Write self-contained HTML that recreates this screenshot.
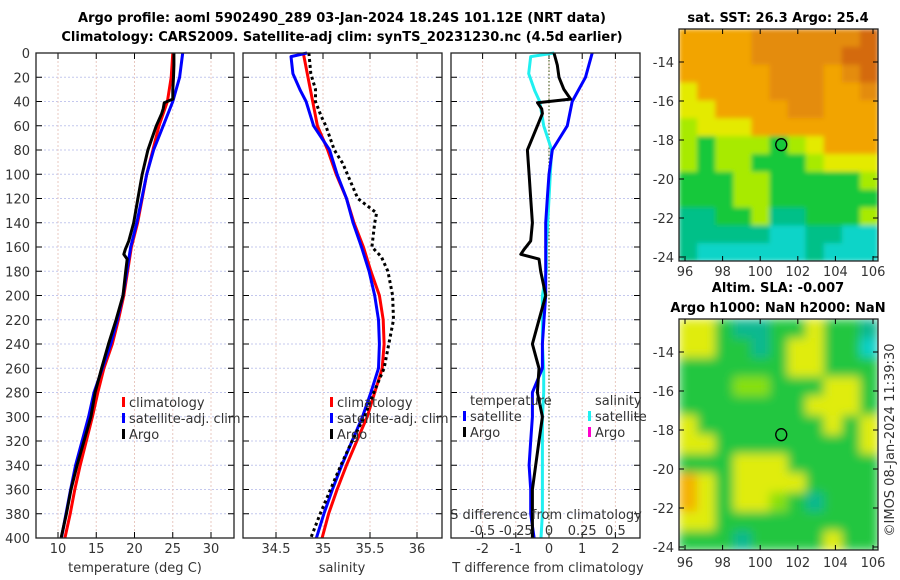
<!DOCTYPE html>
<html><head><meta charset="utf-8">
<style>
html,body{margin:0;padding:0;background:#fff;}
svg{display:block;font-family:"DejaVu Sans","Liberation Sans",sans-serif;}
.t{font-size:13px;fill:#333;}
.b{font-size:13px;font-weight:bold;fill:#000;}
</style></head>
<body>
<svg id="fig" width="900" height="580" viewBox="0 0 900 580" xmlns="http://www.w3.org/2000/svg">
<defs>
<filter id="blur2" x="0" y="0" width="1" height="1"><feGaussianBlur stdDeviation="5"/></filter>
<filter id="blur1" x="0" y="0" width="1" height="1"><feGaussianBlur stdDeviation="2.5"/></filter>
<clipPath id="cm1"><rect x="679" y="29" width="199" height="232"/></clipPath>
<clipPath id="cm2"><rect x="679" y="319" width="199" height="231"/></clipPath>
</defs>
<text class="b" x="342" y="22" text-anchor="middle">Argo profile: aoml 5902490_289 03-Jan-2024 18.24S 101.12E (NRT data)</text>
<text class="b" x="342" y="41" text-anchor="middle">Climatology: CARS2009. Satellite-adj clim: synTS_20231230.nc (4.5d earlier)</text>
<text class="b" x="778" y="22" text-anchor="middle">sat. SST: 26.3 Argo: 25.4</text>
<text class="b" x="778" y="292" text-anchor="middle">Altim. SLA: -0.007</text>
<text class="b" x="778" y="312" text-anchor="middle">Argo h1000: NaN h2000: NaN</text>
<text class="t" transform="translate(894,440) rotate(-90)" text-anchor="middle">©IMOS 08-Jan-2024 11:39:30</text>
<g id="g"></g>
</svg>
<script>
// ---- data ----
const climDepth = [0,20,40,60,80,100,120,140,160,180,200,220,240,260,280,300,320,340,360,380,400];
const climT = [25.0,24.8,24.3,23.2,22.4,21.6,21.0,20.4,19.6,19.1,18.6,17.9,17.1,16.0,15.2,14.5,13.7,12.9,12.2,11.6,10.9];
const satT = [26.3,25.9,25.0,23.75,22.5,21.6,20.95,20.3,19.5,19.0,18.5,17.75,16.9,15.8,14.7,14.0,13.15,12.3,11.65,11.05,10.45];
const climS = [34.79,34.84,34.89,34.94,35.05,35.14,35.25,35.33,35.43,35.51,35.60,35.64,35.65,35.63,35.55,35.47,35.36,35.25,35.15,35.06,34.99];
const satSDepth = [0,3,17,31,40,60,80,100,120,140,160,180,200,220,240,260,280,300,320,340,360,380,400];
const satS = [34.83,34.66,34.68,34.76,34.82,34.90,35.07,35.15,35.25,35.32,35.41,35.49,35.55,35.59,35.60,35.59,35.51,35.42,35.31,35.20,35.10,35.01,34.93];
const argoTDepth = [0,10,20,30,38,41,46,50,60,70,80,100,120,140,155,162,166,170,180,200,220,240,260,280,300,320,340,360,380,400];
const argoT = [25.15,25.15,25.1,25.0,25.0,23.9,23.75,23.55,22.85,22.3,21.75,21.0,20.45,19.9,19.25,18.8,18.6,19.05,18.85,18.5,17.6,16.6,15.7,14.85,14.3,13.4,12.5,11.7,11.1,10.4];
const argoSDepth = [0,17,30,40,52,60,80,91,100,120,132,140,160,168,180,200,220,240,260,280,300,320,340,360,380,400];
const argoS = [34.85,34.87,34.92,34.92,34.98,35.03,35.12,35.21,35.26,35.37,35.57,35.55,35.52,35.62,35.69,35.74,35.75,35.70,35.65,35.54,35.44,35.31,35.19,35.08,34.97,34.87];
const depthTicks = [0,20,40,60,80,100,120,140,160,180,200,220,240,260,280,300,320,340,360,380,400];
const tTicks = [10,15,20,25,30];
const sTicks = [34.5,35,35.5,36];
const tdTicks = [-2,-1,0,1,2];
const sdTicks = [-0.5,-0.25,0,0.25,0.5];
const sdTickLabels = ["-0.5","-0.25","0","0.25","0.5"];
const lonTicks = [96,98,100,102,104,106];
const latTicks = [-14,-16,-18,-20,-22,-24];
const argoLon = 101.12, argoLat = -18.24;
const sstGrid = ["OOOODDDDDDK","OOOODDDDDKK","OOOOODDDODK","YOOOODDDOOD","YYOOOODDOOO","LYYYOOOOOOO","LGLLLGLYOOO","LGLLGGGLYYY","GGGLLGGGGGL","GGGLLGGGGGG","TTGGLTTGGGL","TTTTTCCTTCC","TCCCCCCTCCC"];
const slaGrid = ["YYGTTGGYGGT","YYGGTGYYGGC","GGGGGGYYGGG","GGGLLGGGYYG","GGGGGGGYYYG","YGGGGGGGYGY","YYGGGGGGGGY","GGGYYYGGGGG","OYGYYYYGGGG","OYGYYLGTGGG","YYGGGGGGGGG","GGGTGGGGYGG"];

// ---- scales ----
const yD = d => 53 + d*1.2125;
const xT = t => 58 + (t-10)*7.65;
const xS = s => 323 + (s-35)*94;
const xTd = v => 549 + v*33.2;
const xSd = v => 549 + v*132.8;
const NS = "http://www.w3.org/2000/svg";
const G = document.getElementById('g');
function mk(tag, at, parent){ const e=document.createElementNS(NS,tag); for(const k in at) e.setAttribute(k,at[k]); (parent||G).appendChild(e); return e; }
function interp(xs, ys, x){ for(let i=0;i<xs.length-1;i++){ if(x>=xs[i]&&x<=xs[i+1]){ const f=(x-xs[i])/(xs[i+1]-xs[i]); return ys[i]+f*(ys[i+1]-ys[i]); } } return ys[ys.length-1]; }
function line(depths, vals, xf, color, name, dash){
  const pts = depths.map((d,i)=> xf(vals[i]).toFixed(1)+','+yD(d).toFixed(1)).join(' ');
  const p = mk('polyline',{points:pts,fill:'none',stroke:color,'stroke-width':3,'stroke-linejoin':'round'});
  if(dash){ p.setAttribute('stroke-dasharray',dash); p.setAttribute('stroke-linecap','butt'); }
  
  
  return p;
}
function panel(x0, x1, xt, xf, labels, name, showDepth){
  const grp = mk('g',{});
  
  
  depthTicks.forEach(d=>{ mk('line',{x1:x0,x2:x1,y1:yD(d),y2:yD(d),stroke:'#c4c8ee','stroke-width':1,'stroke-dasharray':'2,2'},grp); });
  xt.forEach(v=>{ mk('line',{x1:xf(v),x2:xf(v),y1:53,y2:538,stroke:'#e8c8c0','stroke-width':1,'stroke-dasharray':'2,2'},grp); });
  depthTicks.forEach(d=>{ mk('line',{x1:x0,x2:x0+6,y1:yD(d),y2:yD(d),stroke:'#000'},grp); mk('line',{x1:x1-6,x2:x1,y1:yD(d),y2:yD(d),stroke:'#000'},grp); });
  xt.forEach(v=>{ mk('line',{x1:xf(v),x2:xf(v),y1:53,y2:59,stroke:'#000'},grp); mk('line',{x1:xf(v),x2:xf(v),y1:532,y2:538,stroke:'#000'},grp); });
  xt.forEach((v,i)=>{ const t=mk('text',{x:xf(v),y:553,'text-anchor':'middle',class:'t'},grp); t.textContent=labels[i];   });
  if(showDepth){ depthTicks.forEach(d=>{ const t=mk('text',{x:30,y:yD(d)+5,'text-anchor':'end',class:'t'},grp); t.textContent=d;   }); }
  return grp;
}
function frame(x0,x1,name){ const r=mk('rect',{x:x0,y:53,width:x1-x0,height:485,fill:'none',stroke:'#222','stroke-width':1.3});   }
function txt(x,y,s,name,anchor){ const t=mk('text',{x:x,y:y,class:'t','text-anchor':anchor||'start'}); t.textContent=s;   return t; }
function legBar(x,y,color,name){ const r=mk('rect',{x:x,y:y-10,width:3,height:10,fill:color});   }

// ---- panel 1: temperature ----
panel(36,234,tTicks,xT,tTicks.map(String),'temperature-panel',true);
line(climDepth,climT,xT,'#ff0000','temp-climatology-line');
line(climDepth,satT,xT,'#0000ff','temp-satellite-line');
line(argoTDepth,argoT,xT,'#000','temp-argo-line');
frame(36,234,'temperature-axes-frame');
txt(135,572,'temperature (deg C)','temperature-axis-title','middle');
legBar(122,407,'#ff0000','legend-climatology-swatch'); txt(129,407,'climatology','legend-climatology');
legBar(122,423,'#0000ff','legend-satellite-swatch'); txt(129,423,'satellite-adj. clim','legend-satellite-adj-clim');
legBar(122,439,'#000','legend-argo-swatch'); txt(129,439,'Argo','legend-argo');

// ---- panel 2: salinity ----
panel(243,442,sTicks,xS,sTicks.map(String),'salinity-panel',false);
line(climDepth,climS,xS,'#ff0000','sal-climatology-line');
line(satSDepth,satS,xS,'#0000ff','sal-satellite-line');
line(argoSDepth,argoS,xS,'#000','sal-argo-line','3,3');
frame(243,442,'salinity-axes-frame');
txt(342,572,'salinity','salinity-axis-title','middle');
legBar(330,407,'#ff0000','legend2-climatology-swatch'); txt(337,407,'climatology','legend2-climatology');
legBar(330,423,'#0000ff','legend2-satellite-swatch'); txt(337,423,'satellite-adj. clim','legend2-satellite-adj-clim');
legBar(330,439,'#000','legend2-argo-swatch'); txt(337,439,'Argo','legend2-argo');

// ---- panel 3: differences ----
panel(451,640,tdTicks,xTd,tdTicks.map(String),'difference-panel',false);
const zl = mk('line',{x1:549,x2:549,y1:53,y2:538,stroke:'#556b2f','stroke-width':1.2,'stroke-dasharray':'1.5,2'});


const satTd = climDepth.map((d,i)=> satT[i]-climT[i]);
const argoTd = argoTDepth.map((d,i)=> argoT[i]-interp(climDepth,climT,d));
const satSd = satSDepth.map((d,i)=> satS[i]-interp(climDepth,climS,d));
line(satSDepth,satSd,xSd,'#20f0f0','sdiff-satellite-line');
line(climDepth,satTd,xTd,'#0000ff','tdiff-satellite-line');
line(argoTDepth,argoTd,xTd,'#000','tdiff-argo-line');
frame(451,640,'difference-axes-frame');
txt(548,572,'T difference from climatology','tdiff-axis-title','middle');
txt(546,519,'S difference from climatology','sdiff-axis-title','middle');
sdTicks.forEach((v,i)=>{ txt(xSd(v),535,sdTickLabels[i],'sdiff-tick-label','middle'); });
txt(470,405,'temperature','legend3-temperature-header');
legBar(463,421,'#0000ff','legend3-tsat-swatch'); txt(470,421,'satellite','legend3-t-satellite');
legBar(463,437,'#000','legend3-targo-swatch'); txt(470,437,'Argo','legend3-t-argo');
txt(595,405,'salinity','legend3-salinity-header');
legBar(588,421,'#20f0f0','legend3-ssat-swatch'); txt(595,421,'satellite','legend3-s-satellite');
legBar(588,437,'#ff00cc','legend3-sargo-swatch'); txt(595,437,'Argo','legend3-s-argo');

// ---- maps ----
const pal = {O:'#f2a400',D:'#e48c0c',K:'#d46a10',Y:'#e4ea00',L:'#a8ea00',G:'#18c83a',T:'#00c088',C:'#10d4c8'};
const pal2 = {O:'#f4b000',Y:'#e0ec10',L:'#88e010',G:'#22c640',T:'#10b890',C:'#10d0c8'};
function map(x0,y0,w,h,grid,p,clip,filt,name,lonY,lat14,lat24,filled){
  const grp = mk('g',{'clip-path':'url(#'+clip+')'});
  
  
  const inner = mk('g',{filter:'url(#'+filt+')'},grp);
  const rows=grid.length, cols=grid[0].length, cw=w/cols, ch=h/rows;
  mk('rect',{x:x0,y:y0,width:w,height:h,fill:p.G},inner);
  grid.forEach((row,r)=>{ [...row].forEach((c,k)=>{ mk('rect',{x:x0+k*cw,y:y0+r*ch,width:cw+0.6,height:ch+0.6,fill:p[c]},inner); }); });
  const lonX = lon => 685 + (lon-96)*18.8;
  const latY = lat => lat14 + (-14-lat)*(lat24-lat14)/10;
  const fr = mk('rect',{x:x0,y:y0,width:w,height:h,fill:'none',stroke:'#222','stroke-width':1.3});
  
  
  latTicks.forEach(v=>{ mk('line',{x1:x0,x2:x0+5,y1:latY(v),y2:latY(v),stroke:'#000'}); mk('line',{x1:x0+w-5,x2:x0+w,y1:latY(v),y2:latY(v),stroke:'#000'}); txt(674,latY(v)+5,String(v),'lat-tick-label','end'); });
  lonTicks.forEach(v=>{ mk('line',{x1:lonX(v),x2:lonX(v),y1:y0+h-5,y2:y0+h,stroke:'#000'}); mk('line',{x1:lonX(v),x2:lonX(v),y1:y0,y2:y0+5,stroke:'#000'}); txt(lonX(v),lonY,String(v),'lon-tick-label','middle'); });
  const c = mk('ellipse',{cx:lonX(argoLon),cy:latY(argoLat),rx:5.5,ry:6,fill:filled?'#18c83a':'none',stroke:'#000','stroke-width':1.3});
  
  
}
map(679,29,199,232,sstGrid,pal,'cm1','blur1','sst-map',276,62,257,true);
map(679,319,199,231,slaGrid,pal2,'cm2','blur2','sla-map',567,352,547,false);
</script>
</body></html>
